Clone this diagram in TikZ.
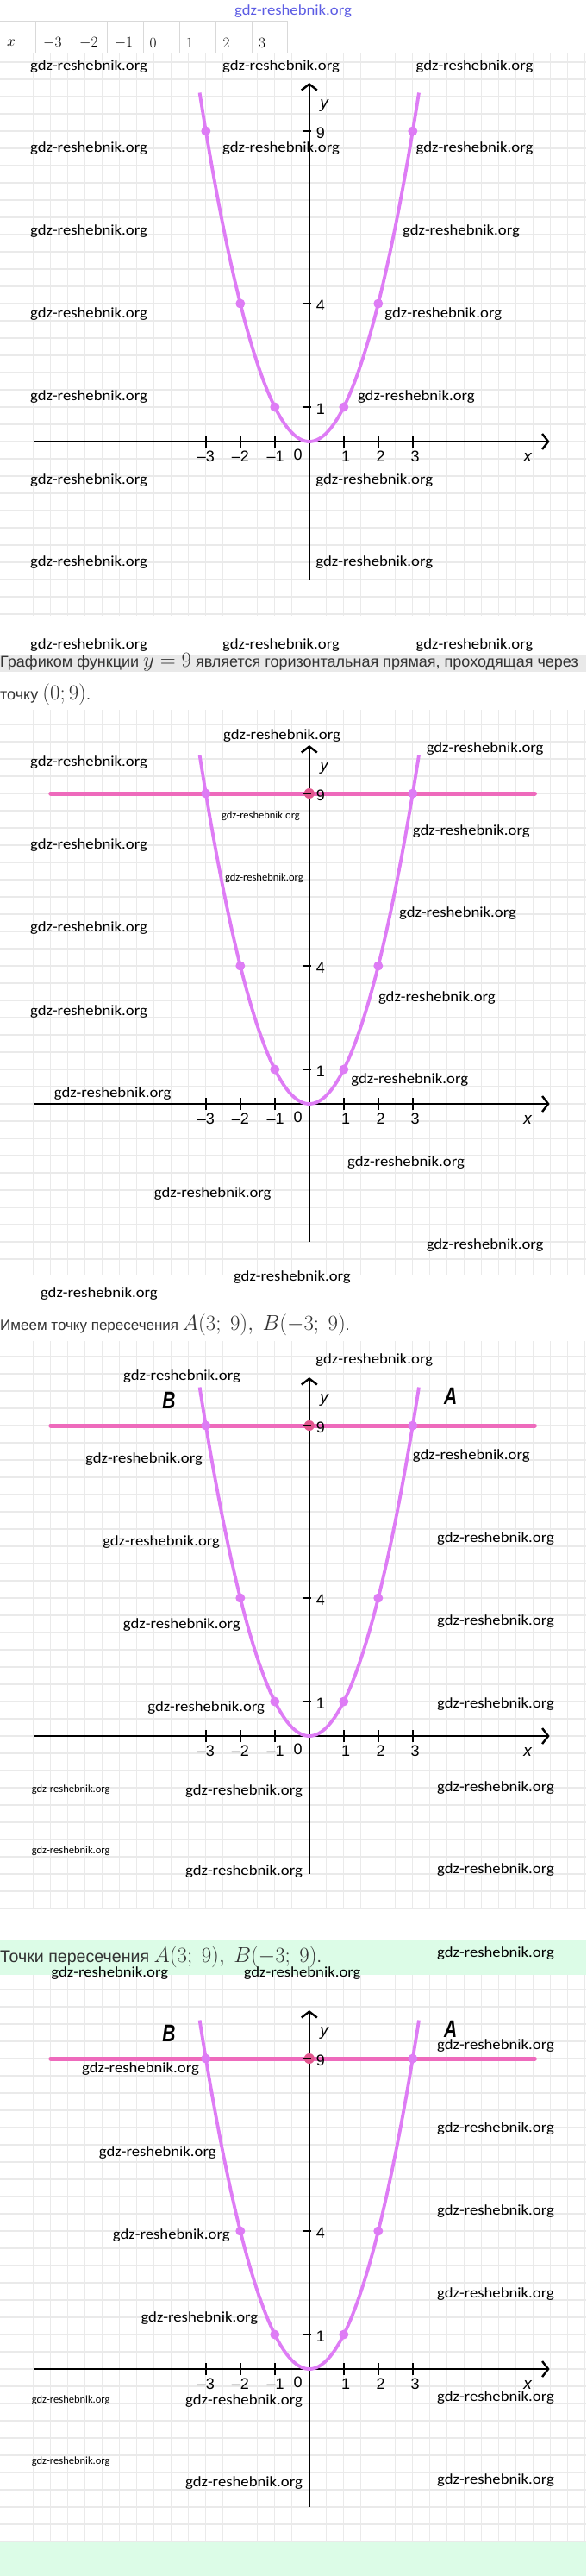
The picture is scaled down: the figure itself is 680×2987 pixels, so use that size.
\documentclass[tikz,border=0pt]{standalone}
\usepackage{fontspec}
\setmainfont{Liberation Sans}
\newfontfamily\wmfont[FakeStretch=1.1]{Carlito}
\newfontfamily\wmsmallfont{Carlito}
\newfontfamily\ptfont[FakeStretch=0.75]{Liberation Sans}
\usetikzlibrary{arrows.meta}
\definecolor{gridgray}{RGB}{234,234,234}
\definecolor{curveviolet}{RGB}{222,124,245}
\definecolor{linepink}{RGB}{238,106,188}
\definecolor{crosspink}{RGB}{226,86,142}
\definecolor{mint}{RGB}{220,252,231}
\definecolor{bandgray}{RGB}{233,233,233}
\definecolor{titleblue}{RGB}{92,92,228}
\newcommand{\bigmath}[1]{{\fontsize{23}{25}\selectfont$#1$}}

\begin{document}
\begin{tikzpicture}[x=1pt,y=-1pt]
\tikzset{
  gridline/.style={gridgray, line width=1.3pt},
  wmark/.style={font=\wmfont\fontsize{17}{20}\selectfont, inner sep=0pt},
  wmsmall/.style={font=\wmsmallfont\fontsize{12.5}{15}\selectfont, inner sep=0pt},
  axis/.style={line width=2.4pt, -{Straight Barb[length=7pt,width=18pt]}},
  tick/.style={line width=2pt},
  ticklabel/.style={font=\fontsize{18}{20}\selectfont, inner sep=0pt},
  axislabel/.style={font=\fontsize{19}{20}\selectfont\itshape, inner sep=0pt},
  curve/.style={curveviolet, line width=3.8pt},
  hline/.style={linepink, line width=5pt, line cap=round},
  ptlabel/.style={font=\ptfont\fontsize{28}{30}\selectfont\bfseries\itshape, inner sep=0pt},
  bodytext/.style={font=\fontsize{18}{20}\selectfont, text=black!80, inner sep=0pt, anchor=west},
  tablecell/.style={font=\fontsize{18}{20}\selectfont, inner sep=0pt, anchor=west},
  pics/parab/.style={code={
    \begin{scope}[x=40pt,y=40pt]
      \draw[axis] (-8,0) -- (6.97,0);
      \draw[axis] (0,-4) -- (0,10.4);
      \ifnum#1>0
        \draw[hline] (-7.5,9) -- (6.54,9);
        \fill[crosspink] (0,9) circle[radius=6pt];
      \fi
      \foreach \k in {-3,-2,-1,1,2,3} \draw[tick] (\k,-0.17) -- (\k,0.17);
      \foreach \k in {1,4,9} \draw[tick] (-0.2,\k) -- (0.05,\k);
      \foreach \k/\lab [count=\i] in {-3/\textendash3,-2/\textendash2,-0.98/\textendash1,1.06/1,2.07/2,3.07/3}
        \node[ticklabel] (-xt\i) at (\k,-0.43) {\lab};
      \node[ticklabel] (-xt0) at (-0.33,-0.37) {0};
      \foreach \k [count=\i] in {1,4,9}
        \node[ticklabel] (-yt\i) at (0.33,\k-0.05) {\k};
      \node[axislabel] (-xl) at (6.33,-0.47) {x};
      \node[axislabel] (-yl) at (0.43,9.74) {y};
      \draw[curve, domain=-3.18:3.18, samples=80, smooth] plot (\x,{\x*\x});
      \foreach \k in {-3,-2,-1,1,2,3} \fill[curveviolet] (\k,{\k*\k}) circle[radius=5.5pt];
      \ifnum#1>1
        \node[ptlabel] (-pb) at (-4.07,9.72) {B};
        \node[ptlabel] (-pa) at (4.1,9.86) {A};
      \fi
    \end{scope}
  }}
}
\useasboundingbox (0,0) rectangle (680,2987);
\fill[white] (0,0) rectangle (680,2987);

% bands
\fill[bandgray] (0,759) rectangle (680,779);
\fill[mint] (0,2250) rectangle (680,2290);
\fill[mint] (0,2947) rectangle (680,2987);

% squared paper
\foreach \ay/\gt/\gb in {512/62/714, 1280/823/1478, 2013/1555/2213, 2747/2290/2947} {
  \begin{scope}
    \clip (0,\gt) rectangle (680,\gb);
    \foreach \gx in {-1.2,18.8,...,680} \draw[gridline] (\gx,\gt) -- (\gx,\gb);
    \foreach \k in {-23,...,10} \draw[gridline] (0,{\ay+20*\k}) -- (680,{\ay+20*\k});
  \end{scope}
}

% table of values
\draw[black!15, line width=1pt] (0,25) -- (334,25);
\foreach \tx in {41.2,83,...,335} \draw[black!15, line width=1pt] (\tx,25) -- (\tx,62);
\node[tablecell] (tx) at (8,50) {$x$};
\foreach \tx/\tv [count=\i] in {50/-3,92/-2,132.6/-1,173.5/0,216/1,258.5/2,300/3}
  \node[tablecell] (tv\i) at (\tx,50) {$\tv$};

\node[wmark, text=titleblue] (title) at (340,13.3) {gdz-reshebnik.org};

\pic (g1) at (358.8,512) {parab=0};
\pic (g2) at (358.8,1280) {parab=1};
\pic (g3) at (358.8,2013) {parab=2};
\pic (g4) at (358.8,2747) {parab=2};

\node[bodytext] (t1) at (0,768.3) {Графиком функции \bigmath{y=9} является горизонтальная прямая, проходящая через};
\node[bodytext] (t2) at (0,805) {точку \bigmath{(0;9)}.};
\node[bodytext, font=\fontsize{17}{20}\selectfont] (t3) at (0,1536.7) {Имеем точку пересечения \bigmath{A(3;\ 9),\ B(-3;\ 9)}.};
\node[bodytext, font=\fontsize{19.6}{22}\selectfont] (t4) at (0,2269.3) {Точки пересечения \bigmath{A(3;\ 9),\ B(-3;\ 9)}.};

% watermarks
\foreach \wx/\wy [count=\i] in {
  103/76.7, 326/76.7, 550.5/76.7, 103/171.7, 326/171.7, 550.5/171.7,
  103/268.3, 535/268.3, 103/364.3, 514.3/364.3, 103/460, 482.9/460,
  103/556.7, 434.3/556.7, 103/652.3, 434.3/652.3, 103/748.3, 326/748.3, 550.5/748.3,
  327/852.7, 562.6/868.3, 103/884, 546.8/964.3, 103/980, 531/1059, 103/1076,
  506.9/1156.7, 103/1172.7, 475.3/1252.3, 130.7/1268.3, 471/1348.3, 246.7/1384,
  562.6/1444, 338.9/1480.7, 114.9/1500,
  434.3/1576.7, 211/1596, 167/1691.7, 546.8/1688.3, 187.1/1788.3, 575/1784.3,
  210.8/1884, 575/1880, 239.2/1980, 575/1976, 283/2076.7, 575/2072.7, 283/2170, 575/2168.3,
  575/2265, 127.3/2288.3, 350.6/2288.3,
  575/2371.7, 163/2399.3, 575/2468.3, 182.8/2496, 575/2564.3, 198.8/2592.3,
  575/2660, 231.4/2688.3, 283/2784, 575/2780, 283/2879.3, 575/2876}
  \node[wmark] (wm\i) at (\wx,\wy) {gdz-reshebnik.org};
\foreach \wx/\wy [count=\i] in {302.5/946.7, 306.4/1018.3, 82.2/2075, 82.2/2146.7, 82.2/2782.7, 82.2/2854.3}
  \node[wmsmall] (ws\i) at (\wx,\wy) {gdz-reshebnik.org};
\end{tikzpicture}
\end{document}
